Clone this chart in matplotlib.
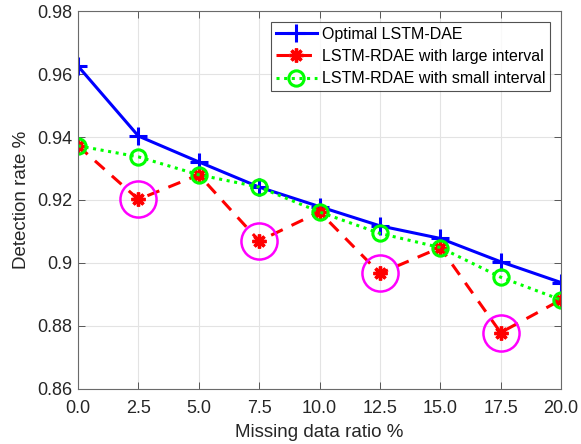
import numpy as np
import matplotlib.pyplot as plt

plt.rcParams['font.family'] = ['Liberation Sans', 'DejaVu Sans']

ratio = [0.0, 2.5, 5.0, 7.5, 10.0, 12.5, 15.0, 17.5, 20.0]
optimal = [0.9625, 0.9403, 0.9321, 0.9241, 0.9179, 0.9118, 0.9078, 0.9004, 0.8938]
large_int = [0.9372, 0.9202, 0.9280, 0.9070, 0.9162, 0.8967, 0.9049, 0.8779, 0.8883]
small_int = [0.9372, 0.9337, 0.9280, 0.9241, 0.9162, 0.9094, 0.9049, 0.8955, 0.8883]
# points marked with a magenta ring
ring_idx = [1, 3, 5, 7]

xticks = [0.0, 2.5, 5.0, 7.5, 10.0, 12.5, 15.0, 17.5, 20.0]
yticks = [0.86, 0.88, 0.90, 0.92, 0.94, 0.96, 0.98]
ytick_labels = ['0.86', '0.88', '0.9', '0.92', '0.94', '0.96', '0.98']

fig = plt.figure(figsize=(5.81, 4.44), dpi=100)
ax = fig.add_axes([0.1343, 0.1239, 0.8313, 0.8513])

ax.plot(ratio, optimal, color='#0000ff', lw=2.2, marker='+', ms=13, mew=2.2,
        label='Optimal LSTM-DAE')
ax.plot(ratio, large_int, color='#ff0000', lw=2.2, ls=(0, (4.2, 3.2)),
        marker=(8, 2, 0), ms=10, mew=2.4, label='LSTM-RDAE with large interval')
ax.plot(ratio, small_int, color='#00ff00', lw=2.2, ls=(0, (1, 1.5)),
        marker='o', ms=11, mew=2.2, mfc='none', label='LSTM-RDAE with small interval')

ax.plot([ratio[i] for i in ring_idx], [large_int[i] for i in ring_idx], ls='none',
        marker='o', ms=26, mfc='none', mec='#ff00ff', mew=1.8)

ax.set_xlim(0, 20)
ax.set_ylim(0.86, 0.98)
ax.set_xticks(xticks)
ax.set_xticklabels([f'{t:.1f}' for t in xticks])
ax.set_yticks(yticks)
ax.set_yticklabels(ytick_labels)
ax.grid(True, color='#e3e3e3', lw=0.8)
ax.set_axisbelow(True)
ax.tick_params(direction='in', top=True, right=True, length=5, width=0.6,
               color='#404040', labelsize=13, labelcolor='#262626')
ax.tick_params(axis='x', pad=8)
ax.tick_params(axis='y', pad=4)
for s in ax.spines.values():
    s.set_color('#6a6a6a')
    s.set_linewidth(0.8)

ax.set_xlabel('Missing data ratio %', fontsize=13.5, color='#262626', labelpad=5)
ax.set_ylabel('Detection rate %', fontsize=13.5, color='#262626', labelpad=5)

leg = ax.legend(loc='upper right', bbox_to_anchor=(0.9775, 0.971), fontsize=11.5,
                frameon=True, fancybox=False, handlelength=2.6, handletextpad=0.3,
                borderpad=0.3, labelspacing=0.45, borderaxespad=0)
leg.get_frame().set_edgecolor('#262626')
leg.get_frame().set_linewidth(0.8)

plt.savefig('out.png', dpi=100)
